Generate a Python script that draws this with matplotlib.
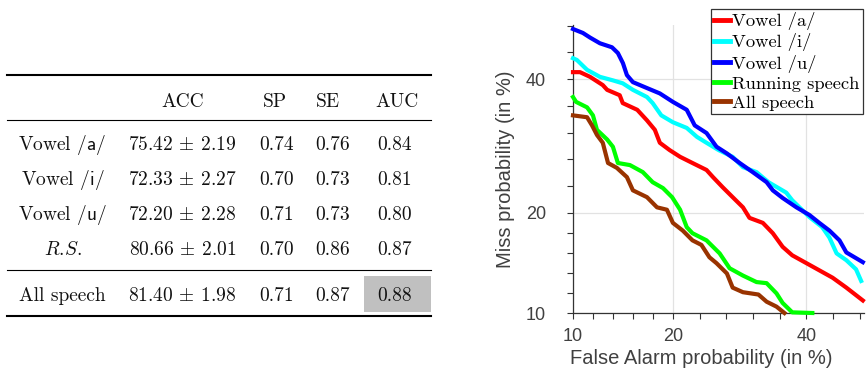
import numpy as np
import matplotlib
matplotlib.use('Agg')
import matplotlib.pyplot as plt
from matplotlib.lines import Line2D
from matplotlib.patches import Rectangle
from statistics import NormalDist

#=====================================================================
#Data
#=====================================================================

#table values
row_labels = ['Vowel /$\\mathsf{a}$/', 'Vowel /$\\mathsf{i}$/', 'Vowel /$\\mathsf{u}$/',
              '$R$.$S$.', 'All speech']
col_labels = ['ACC', 'SP', 'SE', 'AUC']
acc_mean = [75.42, 72.33, 72.20, 80.66, 81.40]
acc_std = [2.19, 2.27, 2.28, 2.01, 1.98]
sp = [0.74, 0.70, 0.71, 0.70, 0.71]
se = [0.76, 0.73, 0.73, 0.86, 0.87]
auc = [0.84, 0.81, 0.80, 0.87, 0.88]

#DET curves (false alarm %, miss %)
fa_a = [10.0, 10.55, 11.38, 12.5, 12.9, 14.1, 14.4, 15.9, 16.96, 17.85, 18.43, 19.6, 20.9,
        22.5, 24.4, 25.3, 26.7, 28.15, 29.7, 30.7, 32.8, 34.4, 36.0, 37.6, 40.0, 42.2,
        44.5, 46.9, 49.8]
miss_a = [41.2, 41.2, 40.4, 39.0, 38.2, 37.3, 36.0, 34.9, 33.2, 31.7, 29.7, 28.6, 27.6,
          26.7, 25.7, 24.7, 23.3, 22.0, 20.7, 19.4, 18.8, 17.6, 16.1, 15.2, 14.4, 13.7,
          13.0, 12.1, 11.0]

fa_i = [10.0, 10.3, 11.13, 12.24, 13.44, 14.4, 15.44, 16.96, 17.6, 18.6, 20.0, 21.75,
        23.1, 24.4, 26.1, 28.15, 29.7, 31.8, 33.7, 36.6, 37.6, 40.5, 42.7, 43.95, 45.2,
        46.9, 48.6, 49.5]
miss_i = [43.6, 43.3, 41.6, 40.4, 39.8, 39.3, 38.2, 37.0, 36.0, 34.0, 32.9, 32.0,
          30.6, 29.7, 28.6, 27.6, 26.1, 25.4, 24.0, 22.6, 21.6, 19.5, 18.3, 17.1, 15.4,
          14.7, 13.8, 12.7]

fa_u = [10.0, 10.79, 11.38, 12.24, 13.35, 13.92, 14.42, 14.82, 15.44, 16.96, 18.43,
        20.0, 21.75, 22.8, 24.4, 25.8, 27.3, 29.2, 31.2, 33.4, 34.4, 36.0, 38.3, 40.5,
        42.2, 43.95, 45.7, 46.9, 49.8]
miss_u = [48.7, 48.0, 47.2, 46.2, 45.5, 44.5, 42.75, 40.7, 39.5, 38.5, 37.6, 36.2, 34.9,
          32.4, 31.2, 29.1, 28.1, 26.7, 25.4, 24.0, 22.9, 21.9, 20.7, 19.75, 18.8, 17.9,
          16.8, 15.5, 14.5]

fa_rs = [10.0, 10.24, 11.13, 11.63, 11.98, 12.9, 13.44, 13.92, 15.13, 16.5, 17.6, 18.8,
         19.9, 20.9, 21.75, 22.5, 24.4, 26.25, 27.7, 29.7, 31.8, 33.4, 35.0, 36.0, 37.6,
         41.0]
miss_rs = [37.0, 36.2, 35.3, 34.0, 31.7, 30.2, 29.1, 26.7, 26.4, 25.4, 24.0, 23.2, 22.0,
           20.4, 18.3, 17.6, 16.8, 15.4, 13.9, 13.2, 12.6, 12.5, 11.6, 10.8, 10.05, 10.0]

fa_all = [10.0, 11.13, 11.55, 11.98, 12.5, 12.98, 13.82, 14.82, 15.44, 16.96, 18.1,
          19.27, 20.0, 21.24, 22.5, 23.7, 24.8, 25.8, 27.3, 28.15, 29.7, 32.1, 33.4,
          35.0, 36.3]
miss_all = [34.0, 33.7, 32.4, 30.9, 29.7, 26.7, 26.0, 24.7, 22.9, 22.0, 20.7, 20.4, 18.8,
            17.9, 16.8, 16.3, 15.0, 14.4, 13.4, 12.1, 11.7, 11.5, 10.9, 10.5, 10.0]

series = [('Vowel /a/', fa_a, miss_a, '#ff0000'),
          ('Vowel /i/', fa_i, miss_i, '#00ffff'),
          ('Vowel /u/', fa_u, miss_u, '#0000ff'),
          ('Running speech', fa_rs, miss_rs, '#00ff00'),
          ('All speech', fa_all, miss_all, '#993300')]

major_pct = [10, 20, 40]

#=====================================================================
#Figure setup
#=====================================================================

plt.rcParams['mathtext.fontset'] = 'cm'
W, H = 867, 372
fig = plt.figure(figsize=(W / 100, H / 100), dpi=100)

def fx(px):
    return px / W

def fy(py):
    return 1 - py / H

#=====================================================================
#Table (left)
#=====================================================================

tfont = dict(family='cmr10', size=14, color='#111111')

#rules
for y, lw in [(75, 1.5), (120, 0.8), (270, 0.8), (316, 1.5)]:
    fig.add_artist(Line2D([fx(7), fx(431)], [fy(y), fy(y)], color='black', lw=lw))

#highlight best AUC
fig.add_artist(Rectangle((fx(364), fy(312)), fx(431) - fx(364), fy(276) - fy(312),
                         facecolor='#c0c0c0', edgecolor='none', zorder=0))

#header
head_x = [183, 275, 327.5, 397.5]
for x, lab in zip(head_x, col_labels):
    fig.text(fx(x), fy(106.5), lab, ha='center', va='baseline', **tfont)

#rows
row_base = [150, 185, 220, 255, 301]
for i, lab in enumerate(row_labels):
    yb = fy(row_base[i])
    fig.text(fx(62.5), yb, lab, ha='center', va='baseline', **tfont)
    fig.text(fx(182.5), yb, f'{acc_mean[i]:.2f} $\\pm$ {acc_std[i]:.2f}',
             ha='center', va='baseline', **tfont)
    fig.text(fx(276.5), yb, f'{sp[i]:.2f}', ha='center', va='baseline', **tfont)
    fig.text(fx(333), yb, f'{se[i]:.2f}', ha='center', va='baseline', **tfont)
    fig.text(fx(395), yb, f'{auc[i]:.2f}', ha='center', va='baseline', **tfont)

#=====================================================================
#DET plot (right)
#=====================================================================

nd = NormalDist()
def probit(p):
    return np.array([nd.inv_cdf(v / 100.0) for v in np.atleast_1d(p)])

ax = fig.add_axes([fx(573), fy(313), fx(864) - fx(573), fy(25) - fy(313)])

for lab, fa, miss, col in series:
    ax.plot(probit(fa), probit(miss), color=col, lw=3, label=lab,
            solid_joinstyle='round', clip_on=False, zorder=3)

xlo, xhi = probit([10, 50])
ylo, yhi = probit([10, 49.4])
ax.set_xlim(xlo, xhi)
ax.set_ylim(ylo, yhi)

maj = probit(major_pct)
def minor_positions(lo, hi):
    s1 = (maj[1] - maj[0]) / 5
    s2 = (maj[2] - maj[1]) / 5
    pos = [maj[0] + k * s1 for k in range(1, 5)]
    pos += [maj[1] + k * s2 for k in range(1, 5)]
    v = maj[2] + s2
    while v <= hi + 1e-9:
        pos.append(v)
        v += s2
    return pos

ax.set_xticks(maj)
ax.set_xticklabels([str(m) for m in major_pct])
ax.set_yticks(maj)
ax.set_yticklabels([str(m) for m in major_pct])
ax.set_xticks(minor_positions(xlo, xhi), minor=True)
ax.set_yticks(minor_positions(ylo, yhi), minor=True)

ax.grid(True, which='major', color='#e2e2e2', lw=0.9, zorder=0)
ax.set_axisbelow(True)
for s in ['top', 'right']:
    ax.spines[s].set_visible(False)
for s in ['left', 'bottom']:
    ax.spines[s].set_color('#333333')
    ax.spines[s].set_linewidth(0.9)

gray = '#404040'
ax.tick_params(which='both', direction='out', length=4.5, width=0.8, color='#333333')
ax.tick_params(axis='x', which='major', pad=6, labelsize=13, labelcolor=gray)
ax.tick_params(axis='y', which='major', pad=15, labelsize=13, labelcolor=gray)
for lbl in ax.get_xticklabels() + ax.get_yticklabels():
    lbl.set_family('Liberation Sans')

ax.set_xlabel('False Alarm probability (in %)', fontsize=14.5, color=gray,
              family='Liberation Sans')
ax.set_ylabel('Miss probability (in %)', fontsize=14.5, color=gray,
              family='Liberation Sans')
ax.xaxis.set_label_coords((701 - 573) / 291, -0.125)
ax.yaxis.set_label_coords(-0.2, 0.5)

leg = ax.legend(loc='upper right', bbox_to_anchor=(fx(863), fy(9)),
                bbox_transform=fig.transFigure, borderaxespad=0,
                prop=dict(family='cmr10', size=13.3), frameon=True, fancybox=False,
                framealpha=1, edgecolor='#333333', handlelength=0.9,
                handletextpad=0.1, labelspacing=0.17, borderpad=0.18)
leg.get_frame().set_linewidth(0.9)
for h in leg.get_lines():
    h.set_linewidth(3.5)

fig.savefig('out.png', dpi=100)
